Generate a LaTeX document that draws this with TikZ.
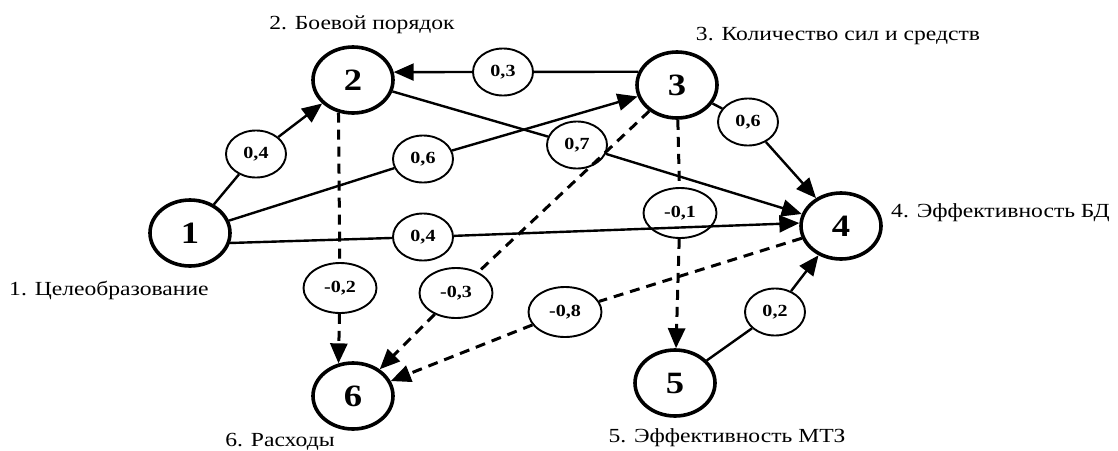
\documentclass[tikz,border=0pt]{standalone}
\usepackage{fontspec}
\setmainfont{Liberation Serif}[FakeStretch=1.18]
\usetikzlibrary{arrows.meta,shapes.geometric}
\begin{document}
\begin{tikzpicture}[x=1pt,y=1pt,
  mainnode/.style={draw,ellipse,line width=3.6pt,minimum width=80pt,minimum height=66pt,inner sep=0pt,fill=white,font=\fontsize{31}{31}\selectfont\bfseries},
  wt/.style={draw,ellipse,line width=1.9pt,minimum width=60pt,minimum height=47pt,inner sep=0pt,fill=white,font=\fontsize{17}{17}\selectfont\bfseries},
  wtn/.style={wt,minimum width=73pt,minimum height=50pt},
  lbl/.style={font=\fontsize{20}{20}\selectfont,inner sep=0pt},
  con/.style={line width=2.4pt},
  tipped/.style={-{Triangle[length=20pt,width=17pt]}},
  arr/.style={con,tipped},
  dsh/.style={line width=3pt,dash pattern=on 10pt off 7pt},
]
\fill[white] (0,0) rectangle (1118,-450);
\useasboundingbox (0,0) rectangle (1118,-450);

% main nodes
\node[mainnode] (n1) at (190,-233) {1};
\node[mainnode] (n2) at (353,-80) {2};
\node[mainnode] (n3) at (677,-85) {3};
\node[mainnode] (n4) at (841,-226) {4};
\node[mainnode] (n5) at (675,-383) {5};
\node[mainnode] (n6) at (353,-396) {6};

% weight nodes
\node[wt] (w12) at (256,-154) {0,4};
\node[wt] (w13) at (423,-159) {0,6};
\node[wt] (w14) at (423,-237) {0,4};
\node[wt] (w32) at (503,-72) {0,3};
\node[wt] (w24) at (577,-145) {0,7};
\node[wt] (w34) at (748,-122) {0,6};
\node[wtn] (w35) at (680,-213) {-0,1};
\node[wtn] (w36) at (456,-293) {-0,3};
\node[wtn] (w26) at (340,-288) {-0,2};
\node[wtn] (w46) at (565,-312) {-0,8};
\node[wt] (w54) at (775,-312) {0,2};

% connectors
\draw[con] (n1) -- (w12); \draw[arr] (w12) -- (n2);
\draw[con] (n1) -- (w13); \draw[arr] (w13) -- (n3);
\draw[con] (n1.-14) -- (w14); \draw[arr] (w14) -- (n4.176);
\draw[con] (n3.161) -- (w32); \draw[arr] (w32) -- (n2.11);
\draw[con] (n2) -- (w24); \draw[arr] (w24) -- (n4);
\draw[con] (n3) -- (w34); \draw[arr] (w34) -- (n4);
\draw[dsh] (n3) -- (w35); \draw[dsh,tipped] (w35) -- (n5);
\draw[dsh] (n3) -- (w36); \draw[dsh,tipped] (w36) -- (n6);
\draw[dsh] (n2.246) -- (w26); \draw[dsh,tipped] (w26) -- (n6.114);
\draw[dsh] (n4) -- (w46); \draw[dsh,tipped] (w46) -- (n6);
\draw[con] (n5) -- (w54); \draw[arr] (w54) -- (n4);

% labels
\node[lbl,anchor=west] (L1) at (9,-290) {1. Целеобразование};
\node[lbl] (L2) at (362,-25) {2. Боевой порядок};
\node[lbl] (L3) at (838,-36) {3. Количество сил и средств};
\node[lbl,anchor=west] (L4) at (891,-213) {4. Эффективность БД};
\node[lbl] (L5) at (727,-438) {5. Эффективность МТЗ};
\node[lbl] (L6) at (280,-442) {6. Расходы};
\end{tikzpicture}
\end{document}
